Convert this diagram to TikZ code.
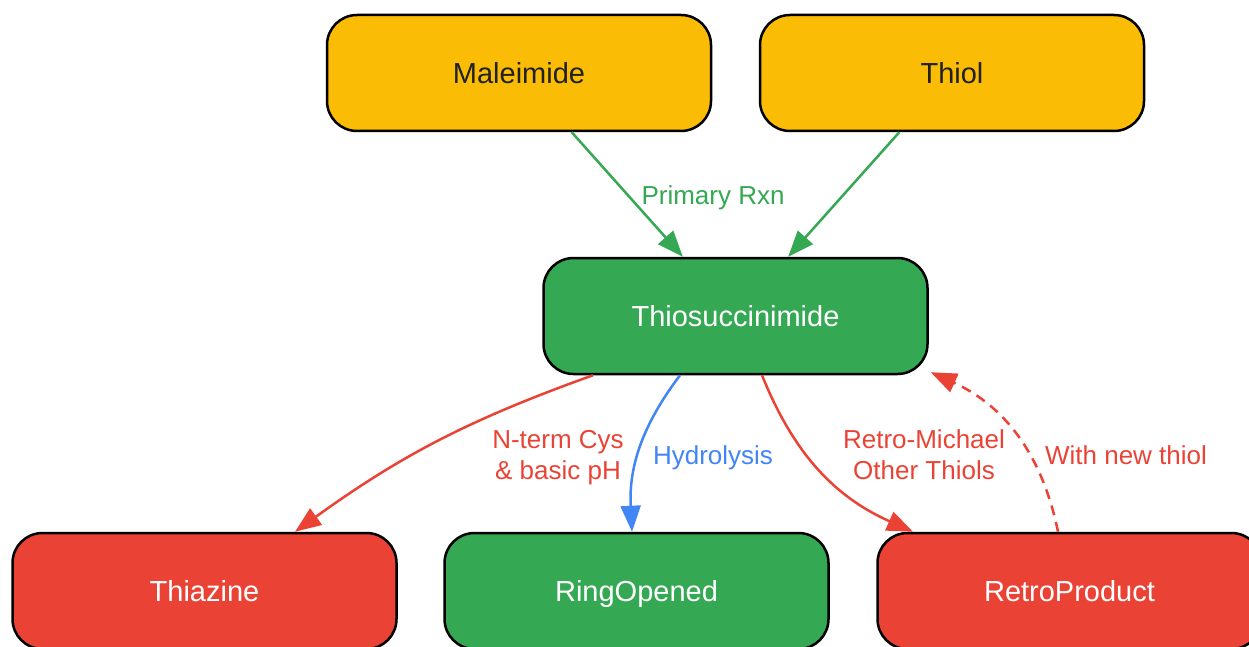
\documentclass[tikz,border=0pt]{standalone}
\usepackage{fontspec}
\setmainfont{Liberation Sans}
\usetikzlibrary{arrows.meta}
\usetikzlibrary{shapes}
\usepackage{xcolor}
\definecolor{gyellow}{HTML}{FBBC05}
\definecolor{ggreen}{HTML}{34A853}
\definecolor{gred}{HTML}{EA4335}
\definecolor{gblue}{HTML}{4285F4}
\definecolor{ink}{HTML}{202124}

\tikzset{
  box/.style={draw=black, line width=2.5pt, rounded corners=30pt,
    minimum width=384pt, minimum height=116pt,
    text height=21pt, text depth=0pt,
    font=\fontsize{29}{34}\selectfont},
  edge/.style={line width=2.5pt, -{Triangle[length=26pt,width=20pt]}},
  lbl/.style={font=\fontsize{26}{31}\selectfont, align=center}
}

\begin{document}
\begin{tikzpicture}[x=1pt,y=1pt]
                \clip (0,0) rectangle (1249,-647);
                % reactants
                \node[box, fill=gyellow, text=ink] (maleimide) at (519,-73) {Maleimide};
                \node[box, fill=gyellow, text=ink] (thiol) at (952,-73) {Thiol};
                % adduct
                \node[box, fill=ggreen, text=white] (thio) at (735.5,-316) {Thiosuccinimide};
                % products
                \node[box, fill=gred, text=white] (thiazine) at (204.5,-591) {Thiazine};
                \node[box, fill=ggreen, text=white] (ringopened) at (636.5,-591) {RingOpened};
                \node[box, fill=gred, text=white] (retro) at (1069.5,-591) {RetroProduct};

                \draw[edge, ggreen] (maleimide) -- (thio);
                \draw[edge, ggreen] (thiol) -- (thio);
                \draw[edge, gred] ([xshift=-142.5pt]thio.south)
                    to[bend right=8] ([xshift=90.5pt]thiazine.north);
                \draw[edge, gblue] ([xshift=-55.5pt]thio.south)
                    to[bend right=20] ([xshift=-4.5pt]ringopened.north);
                \draw[edge, gred] ([xshift=26.5pt]thio.south)
                    to[bend right=22] ([xshift=-156.5pt]retro.north);
                \draw[edge, gred, dash pattern=on 10pt off 7pt] ([xshift=-11.5pt]retro.north)
                    to[bend right=27] ([xshift=2pt,yshift=3pt]thio.south east);

                % edge labels
                \node[lbl, text=ggreen] (lprimary) at (713,-198) {Primary Rxn};
                \node[lbl, text=gred] (lnterm) at (558,-458) {N-term Cys\\\& basic pH};
                \node[lbl, text=gblue] (lhydro) at (713,-458) {Hydrolysis};
                \node[lbl, text=gred] (lretro) at (924,-455) {Retro-Michael\\Other Thiols};
                \node[lbl, text=gred] (lnew) at (1126,-455) {With new thiol};
\end{tikzpicture}
\end{document}
